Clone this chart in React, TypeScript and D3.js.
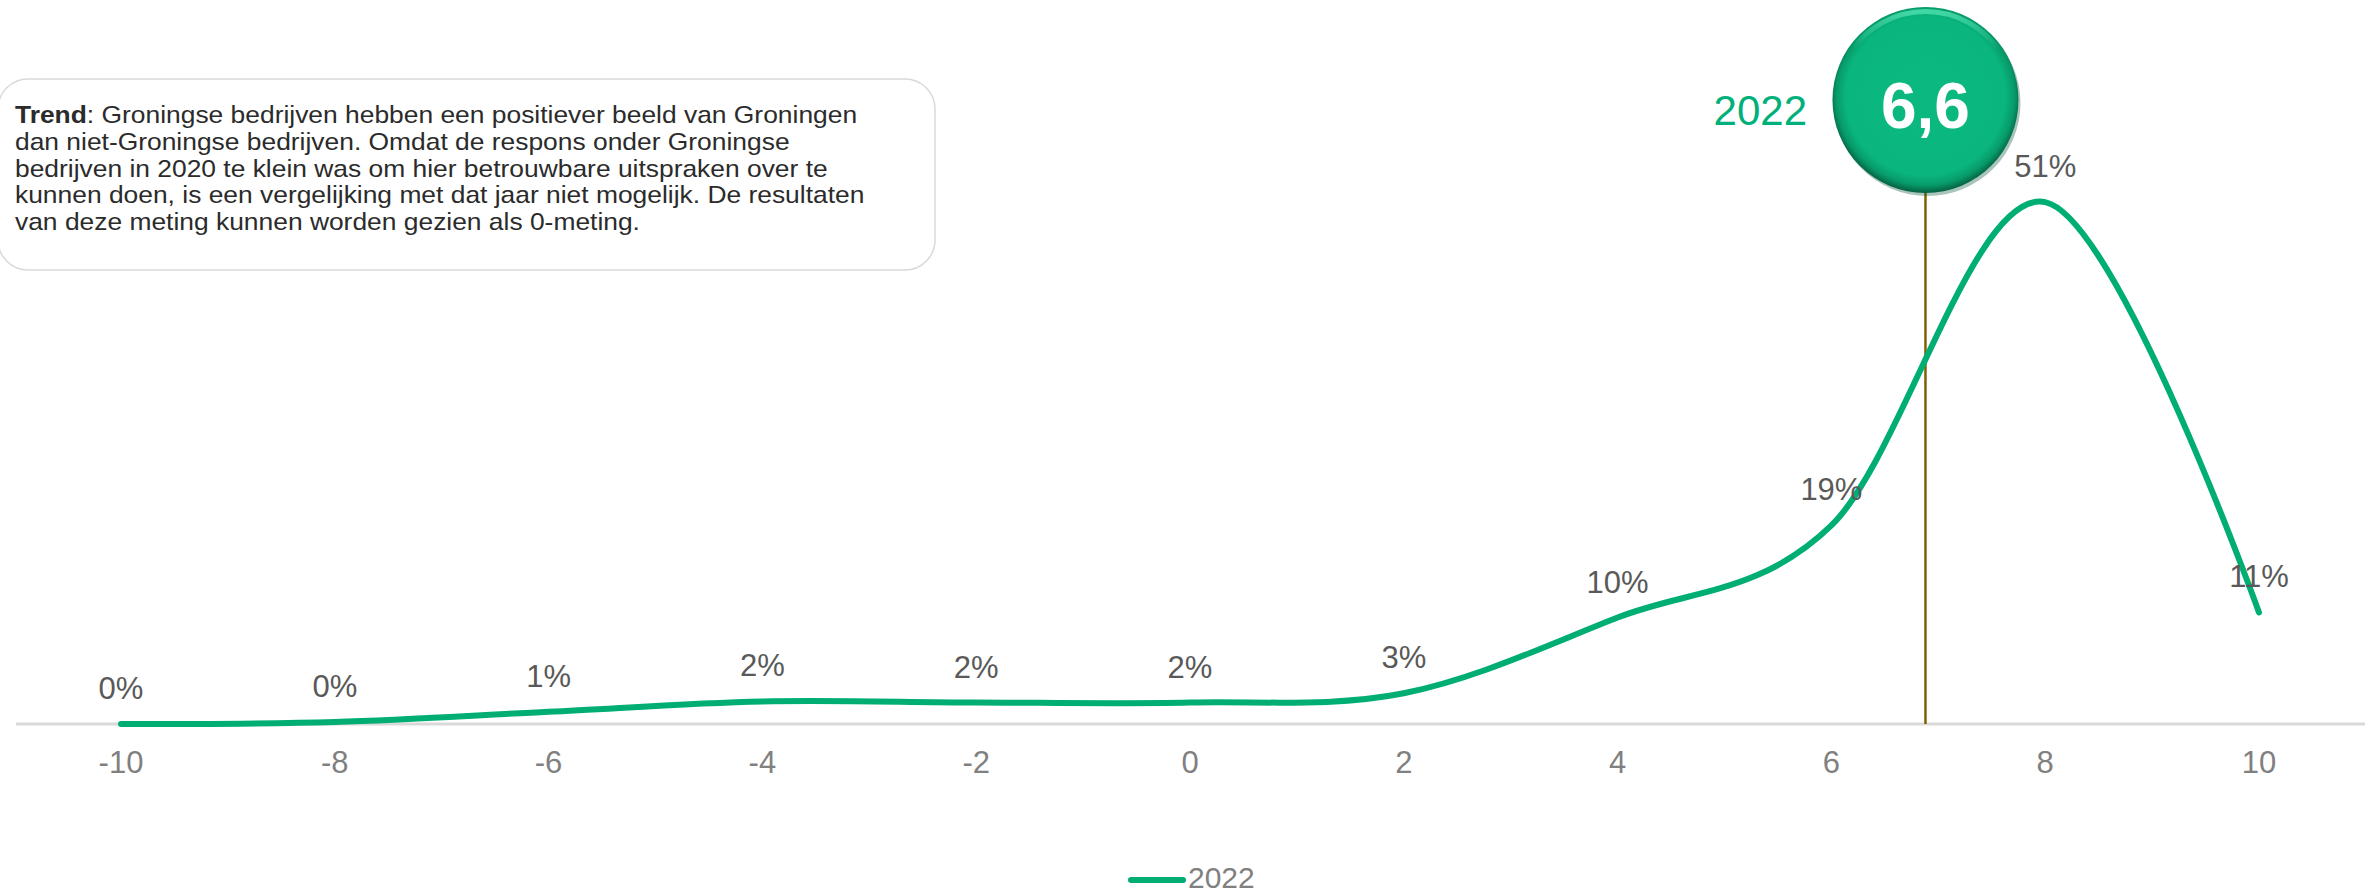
import React from "react";
import * as d3 from "d3";

// ---------- data ----------
const xCategories: number[] = [-10, -8, -6, -4, -2, 0, 2, 4, 6, 8, 10];
const values2022: number[] = [0.0, 0.2, 1.2, 2.2, 2.1, 2.1, 3.0, 10.4, 19.4, 51.0, 10.9];
const valueLabels: string[] = ["0%", "0%", "1%", "2%", "2%", "2%", "3%", "10%", "19%", "51%", "11%"];
const seriesName = "2022";
const meanLabel = "6,6";
const meanPosition = 6.88;
const trendTitle = "Trend";
const trendLines: string[] = [
  ": Groningse bedrijven hebben een positiever beeld van Groningen",
  "dan niet-Groningse bedrijven. Omdat de respons onder Groningse",
  "bedrijven in 2020 te klein was om hier betrouwbare uitspraken over te",
  "kunnen doen, is een vergelijking met dat jaar niet mogelijk. De resultaten",
  "van deze meting kunnen worden gezien als 0-meting.",
];

// ---------- layout ----------
const W = 2369;
const H = 893;
const FONT = "'Liberation Sans', Arial, sans-serif";
const GREEN = "#00AE74";

export default function App() {
  const x = d3.scaleLinear().domain([-10, 10]).range([121, 2259]);
  const y = d3.scaleLinear().domain([0, 60]).range([724, 110]);

  const pts: [number, number][] = xCategories.map((c, i) => [x(c), y(values2022[i])]);
  const line = d3.line().curve(d3.curveCatmullRom.alpha(0))(pts) || "";

  const mx = x(meanPosition);
  const cy = 100;
  const r = 93;

  return (
    <svg
      width={W}
      height={H}
      style={{ position: "absolute", left: 0, top: 0, background: "#fff" }}
      fontFamily={FONT}
    >
      <defs>
        <radialGradient id="ball" cx="50%" cy="48%" r="52%">
          <stop offset="0%" stopColor="#0BB980" />
          <stop offset="82%" stopColor="#0AB67E" />
          <stop offset="92%" stopColor="#079A6A" />
          <stop offset="100%" stopColor="#05603F" />
        </radialGradient>
        <linearGradient id="hl" x1="0" y1="0" x2="0" y2="1">
          <stop offset="0%" stopColor="#5DF0BF" stopOpacity="0.95" />
          <stop offset="100%" stopColor="#5DF0BF" stopOpacity="0" />
        </linearGradient>
      </defs>

      {/* trend text box */}
      <rect x={-2} y={79} width={937} height={191} rx={30} ry={30} fill="#fff" stroke="#D9D9D9" strokeWidth={1.5} />
      <g transform="translate(15,0) scale(1.1,1)">
        <text fontSize={24} fill="#2b2b2b">
          {trendLines.map((t, i) => (
            <tspan key={i} x={0} y={123 + i * 26.8}>
              {i === 0 ? <tspan fontWeight="bold">{trendTitle}</tspan> : null}
              {t}
            </tspan>
          ))}
        </text>
      </g>

      {/* x axis line */}
      <line x1={16} x2={2365} y1={724} y2={724} stroke="#D9D9D9" strokeWidth={3} />

      {/* tick labels */}
      {xCategories.map((c) => (
        <text key={c} x={x(c)} y={773} textAnchor="middle" fontSize={31} fill="#808080">
          {c}
        </text>
      ))}

      {/* mean marker line */}
      <line x1={mx} x2={mx} y1={cy + r - 2} y2={724} stroke="#7F6000" strokeWidth={2.5} />

      {/* series line */}
      <path d={line} fill="none" stroke={GREEN} strokeWidth={6} strokeLinecap="round" strokeLinejoin="round" />

      {/* data labels */}
      {xCategories.map((c, i) => (
        <text key={"l" + c} x={x(c)} y={y(values2022[i]) - 25} textAnchor="middle" fontSize={31} fill="#595959">
          {valueLabels[i]}
        </text>
      ))}

      {/* mean ball */}
      <circle cx={mx + 2} cy={cy + 3} r={r} fill="#0A5A3C" opacity={0.35} />
      <circle cx={mx} cy={cy} r={r} fill="url(#ball)" />
      <path
        d={`M ${mx - r * 0.78} ${cy - r * 0.55} A ${r * 0.96} ${r * 0.96} 0 0 1 ${mx + r * 0.78} ${cy - r * 0.55}`}
        fill="none"
        stroke="url(#hl)"
        strokeWidth={5}
        opacity={0.7}
      />
      <text x={mx} y={128} textAnchor="middle" fontSize={64} fontWeight="bold" fill="#fff">
        {meanLabel}
      </text>
      <text x={1807} y={125} textAnchor="end" fontSize={42} fill="#00B07A">
        {seriesName}
      </text>

      {/* legend */}
      <line x1={1131} x2={1183} y1={880} y2={880} stroke={GREEN} strokeWidth={6} strokeLinecap="round" />
      <text x={1188} y={888} fontSize={30} fill="#808080">
        {seriesName}
      </text>
    </svg>
  );
}
